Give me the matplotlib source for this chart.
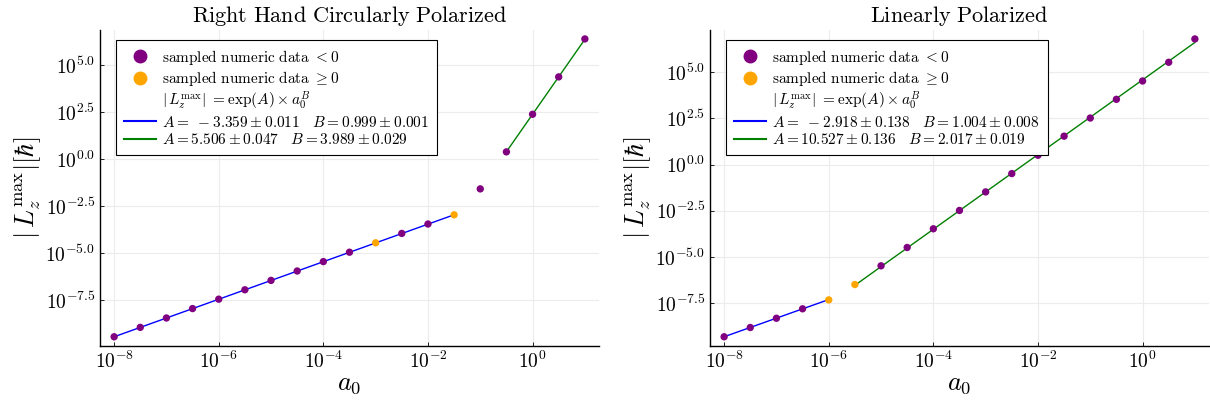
import numpy as np
import matplotlib
matplotlib.use("Agg")
import matplotlib.pyplot as plt
from matplotlib.lines import Line2D

plt.rcParams["mathtext.fontset"] = "cm"
plt.rcParams["font.family"] = "serif"
plt.rcParams["font.serif"] = ["cmr10", "DejaVu Serif"]
plt.rcParams["axes.formatter.use_mathtext"] = True

# sampled a0 values (half decades from 1e-8 to 10)
a0 = [1e-8, 3.16e-8, 1e-7, 3.16e-7, 1e-6, 3.16e-6, 1e-5, 3.16e-5, 1e-4, 3.16e-4,
      1e-3, 3.16e-3, 1e-2, 3.16e-2, 1e-1, 3.16e-1, 1.0, 3.16, 10.0]

# log10 |Lz max|
rhc_log_L = [-9.45, -8.95, -8.45, -7.95, -7.45, -6.95, -6.45, -5.95, -5.45, -4.95,
             -4.45, -3.95, -3.45, -2.96, -1.58, 0.39, 2.39, 4.38, 6.40]
rhc_orange = [10, 13]
lin_log_L = [-9.30, -8.80, -8.30, -7.79, -7.31, -6.48, -5.47, -4.48, -3.47, -2.48,
             -1.48, -0.49, 0.50, 1.53, 2.51, 3.52, 4.51, 5.52, 6.78]
lin_orange = [4, 5]

# fit results: (A, B, first index, last index, colour, label)
rhc_fits = [(-3.359, 0.999, 0, 13, "blue",
             r"$A =\ -3.359 \pm 0.011\quad B = 0.999 \pm 0.001$"),
            (5.506, 3.989, 15, 18, "green",
             r"$A = 5.506 \pm 0.047\quad B = 3.989 \pm 0.029$")]
lin_fits = [(-2.918, 1.004, 0, 4, "blue",
             r"$A =\ -2.918 \pm 0.138\quad B = 1.004 \pm 0.008$"),
            (10.527, 2.017, 5, 18, "green",
             r"$A = 10.527 \pm 0.136\quad B = 2.017 \pm 0.019$")]

titles = [r"$\mathrm{Right\ Hand\ Circularly\ Polarized}$", r"$\mathrm{Linearly\ Polarized}$"]

ytick_exp = [-7.5, -5.0, -2.5, 0.0, 2.5, 5.0]
xtick_exp = [-8, -6, -4, -2, 0]

PURPLE = "#800080"
ORANGE = "#FFA500"

fig = plt.figure(figsize=(12.1, 4.05), dpi=100)
ax1 = fig.add_axes([100 / 1210, 1 - 345.7 / 405, 499 / 1210, 315.7 / 405])
ax2 = fig.add_axes([710 / 1210, 1 - 345.7 / 405, 499 / 1210, 315.7 / 405])

for ax, logL, orange_idx, fits, title in [
        (ax1, rhc_log_L, rhc_orange, rhc_fits, titles[0]),
        (ax2, lin_log_L, lin_orange, lin_fits, titles[1])]:
    x = np.array(a0)
    y = 10 ** np.array(logL)
    ax.set_xscale("log")
    ax.set_yscale("log")

    handles = [
        Line2D([], [], ls="none", marker="o", color=PURPLE, markersize=9,
               label=r"$\mathrm{sampled\ numeric\ data\ } < 0$"),
        Line2D([], [], ls="none", marker="o", color=ORANGE, markersize=9,
               label=r"$\mathrm{sampled\ numeric\ data\ } \geq 0$"),
        Line2D([], [], color="none",
               label=r"$|\,L_z^{\mathrm{max}}|\ = \mathrm{exp}(A)\times a_0^B$"),
    ]
    for A, B, i0, i1, col, lab in fits:
        xf = np.array([a0[i0], a0[i1]])
        ax.plot(xf, np.exp(A) * xf ** B, color=col, lw=1, zorder=2)
        handles.append(Line2D([], [], color=col, lw=1.5, label=lab))

    cols = [ORANGE if i in orange_idx else PURPLE for i in range(len(a0))]
    ax.scatter(x, y, s=28, c=cols, edgecolors="none", zorder=3)

    # limits with 3% padding in log space like Plots.jl
    lx0, lx1 = np.log10(x.min()), np.log10(x.max())
    ly0, ly1 = min(logL), max(logL)
    px, py = 0.03 * (lx1 - lx0), 0.03 * (ly1 - ly0)
    ax.set_xlim(10 ** (lx0 - px), 10 ** (lx1 + px))
    ax.set_ylim(10 ** (ly0 - py), 10 ** (ly1 + py))

    ax.set_xticks([10.0 ** e for e in xtick_exp])
    ax.set_xticklabels([r"$10^{%d}$" % e for e in xtick_exp])
    ax.set_yticks([10.0 ** e for e in ytick_exp])
    ax.set_yticklabels([r"$10^{%.1f}$" % e for e in ytick_exp])
    ax.minorticks_off()
    ax.tick_params(labelsize=14, length=3, width=0.6, direction="in", colors="black")

    ax.grid(True, color="#ececec", lw=0.8)
    ax.set_axisbelow(True)
    for s in ["top", "right"]:
        ax.spines[s].set_visible(False)
    for s in ["left", "bottom"]:
        ax.spines[s].set_linewidth(1.0)

    ax.set_title(title, fontsize=16, pad=6)
    ax.set_xlabel(r"$a_0$", fontsize=19, labelpad=0)
    ax.set_ylabel(r"$|\,L_z^{\mathrm{max}}|[\hbar]$", fontsize=19, labelpad=2)

    leg = ax.legend(handles=handles, loc="upper left", bbox_to_anchor=(0.033, 0.968),
                    borderaxespad=0, fontsize=11, frameon=True, fancybox=False,
                    framealpha=1, edgecolor="black", handlelength=2.1,
                    handletextpad=0.4, labelspacing=0.15, borderpad=0.5)
    leg.get_frame().set_linewidth(0.8)

fig.savefig("out.png", dpi=100)
